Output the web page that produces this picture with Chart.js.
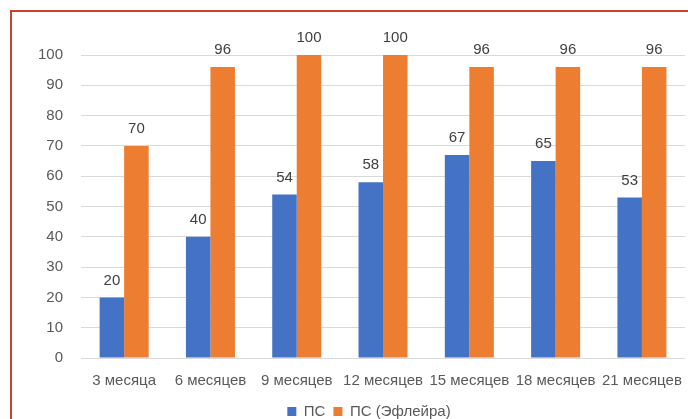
<!DOCTYPE html>
<html>
<head>
<meta charset="utf-8">
<script src="https://cdn.jsdelivr.net/npm/chart.js@4"></script>
<style>
    html, body { margin: 0; padding: 0; background: #fff; }
    body { width: 688px; height: 419px; overflow: hidden; position: relative; }
    #frame {
        position: absolute; left: 10px; top: 10px; width: 720px; height: 460px;
        border-left: 2px solid #c9432c; border-top: 2px solid #c9432c;
    }
    #chart { position: absolute; left: 0; top: 0; }
</style>
</head>
<body>
<div id="frame"></div>
<canvas id="chart" width="688" height="429"></canvas>
<script>
const categories = ['3 месяца', '6 месяцев', '9 месяцев', '12 месяцев', '15 месяцев', '18 месяцев', '21 месяцев'];
const seriesNames = ['ПС', 'ПС (Эфлейра)'];
const psValues = [20, 40, 54, 58, 67, 65, 53];
const eflValues = [70, 96, 100, 100, 96, 96, 96];
const yTicks = [0, 10, 20, 30, 40, 50, 60, 70, 80, 90, 100];

const FONT = 'Liberation Sans, Arial, sans-serif';

// подписи значений над столбцами
const valueLabels = {
    id: 'valueLabels',
    afterLayout(chart) {
        // легенда в оригинале немного смещена вправо
        chart.legend.left += 26;
        chart.legend.right += 26;
    },
    afterDatasetsDraw(chart) {
        const ctx = chart.ctx;
        ctx.save();
        ctx.font = '15px ' + FONT;
        ctx.fillStyle = '#404040';
        ctx.textAlign = 'center';
        ctx.textBaseline = 'middle';
        chart.data.datasets.forEach((ds, i) => {
            chart.getDatasetMeta(i).data.forEach((bar, j) => {
                ctx.fillText(ds.data[j], bar.x, bar.y - 17);
            });
        });
        ctx.restore();
    }
};

new Chart(document.getElementById('chart'), {
    type: 'bar',
    data: {
        labels: categories,
        datasets: [
            { label: seriesNames[0], data: psValues, backgroundColor: '#4472c4' },
            { label: seriesNames[1], data: eflValues, backgroundColor: '#ed7d31' }
        ]
    },
    options: {
        responsive: false,
        animation: false,
        devicePixelRatio: 1,
        categoryPercentage: 0.568,
        barPercentage: 1,
        layout: { padding: { top: 55, right: 2, left: 0, bottom: 0 } },
        scales: {
            x: {
                grid: { display: false },
                border: { display: false },
                ticks: { color: '#595959', font: { family: FONT, size: 15 }, padding: 6, maxRotation: 0, autoSkip: false },
                afterFit: s => { s.height = 38; }
            },
            y: {
                min: 0, max: 100,
                afterBuildTicks: s => { s.ticks = yTicks.map(v => ({ value: v })); },
                grid: { color: '#d9d9d9', drawTicks: false },
                border: { display: false },
                ticks: { color: '#595959', font: { family: FONT, size: 15 }, padding: 18 },
                afterFit: s => { s.width = 81; }
            }
        },
        plugins: {
            legend: {
                position: 'bottom',
                labels: {
                    color: '#595959', font: { family: FONT, size: 15 },
                    boxWidth: 9, boxHeight: 9, padding: 8
                }
            },
            tooltip: { enabled: false }
        }
    },
    plugins: [valueLabels]
});
</script>
</body>
</html>
